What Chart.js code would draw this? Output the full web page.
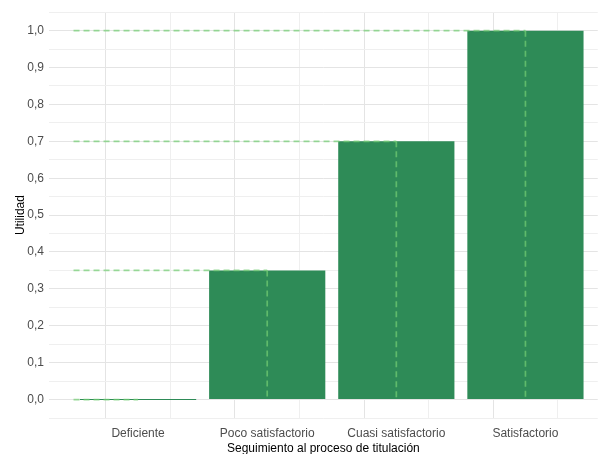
<!DOCTYPE html>
<html>
<head>
<meta charset="utf-8">
<script src="https://cdn.jsdelivr.net/npm/chart.js@4/dist/chart.umd.min.js"></script>
<style>
  html, body { margin: 0; padding: 0; background: #fff; }
  #wrap { width: 598px; height: 454px; }
</style>
</head>
<body>
<div id="wrap"><canvas id="chart"></canvas></div>
<script>
// Data
const categories = ['Deficiente', 'Poco satisfactorio', 'Cuasi satisfactorio', 'Satisfactorio'];
const utilidad = [0, 0.35, 0.7, 1.0];
const yTicks = [0, 0.1, 0.2, 0.3, 0.4, 0.5, 0.6, 0.7, 0.8, 0.9, 1.0];

const fontFamily = '"Liberation Sans", Arial, sans-serif';
const dashColor = 'rgba(115, 205, 115, 0.72)';

// bars sit at x = 0..n-1 on a linear axis
const barData = utilidad.map((v, i) => ({ x: i, y: v }));

// reference lines: horizontal from left edge to bar centre, vertical down to 0
const refSets = [];
utilidad.forEach((v, i) => {
    refSets.push({
        type: 'line',
        data: [{ x: -0.5, y: v }, { x: i, y: v }],
        borderColor: dashColor,
        borderWidth: 1.7,
        borderDash: [6, 4],
        pointRadius: 0,
        fill: false,
        order: 0
    });
    refSets.push({
        type: 'line',
        data: [{ x: i, y: v }, { x: i, y: 0 }],
        borderColor: dashColor,
        borderWidth: 1.7,
        borderDash: [6, 4],
        pointRadius: 0,
        fill: false,
        order: 0
    });
});

const isMajorY = v => yTicks.some(t => Math.abs(t - v) < 1e-6);
const isMajorX = v => Math.abs(v - Math.round(v)) < 1e-6;
const tickVal = ctx => (ctx && ctx.tick) ? ctx.tick.value : NaN;

new Chart(document.getElementById('chart'), {
    type: 'bar',
    data: {
        datasets: [{
            type: 'bar',
            data: barData,
            backgroundColor: '#2E8B57',
            borderWidth: 0,
            minBarLength: 1,
            // ticks every 0.5 halve the sample size, so 1.8 => 90% of a category
            barPercentage: 1.8,
            categoryPercentage: 1,
            order: 1
        }, ...refSets]
    },
    options: {
        responsive: true,
        maintainAspectRatio: false,
        animation: false,
        layout: { padding: { top: 11, right: 0, bottom: 0, left: 0 } },
        plugins: {
            legend: { display: false },
            tooltip: { enabled: false }
        },
        scales: {
            x: {
                type: 'linear',
                offset: false,
                min: -0.69,
                max: 3.56,
                afterBuildTicks: scale => {
                    const t = [];
                    for (let v = -0.5; v <= 3.5; v += 0.5) t.push({ value: v });
                    scale.ticks = t;
                },
                afterFit: scale => { scale.height = 36; },
                border: { display: false },
                grid: {
                    drawTicks: false,
                    color: ctx => isMajorX(tickVal(ctx)) ? '#e4e4e4' : '#efefef',
                    lineWidth: 1
                },
                ticks: {
                    autoSkip: false,
                    maxRotation: 0,
                    padding: 8,
                    color: '#4d4d4d',
                    font: { family: fontFamily, size: 12 },
                    callback: v => isMajorX(v) ? (categories[Math.round(v)] || '') : ''
                },
                title: {
                    display: true,
                    text: 'Seguimiento al proceso de titulación',
                    color: '#000',
                    font: { family: fontFamily, size: 12 },
                    padding: { top: 0, bottom: -2 }
                }
            },
            y: {
                min: -0.05,
                max: 1.05,
                afterBuildTicks: scale => {
                    const t = [];
                    for (let k = -1; k <= 21; k++) t.push({ value: k * 0.05 });
                    scale.ticks = t;
                },
                afterFit: scale => { scale.width = 49; },
                border: { display: false },
                grid: {
                    drawTicks: false,
                    color: ctx => isMajorY(tickVal(ctx)) ? '#e4e4e4' : '#efefef',
                    lineWidth: 1
                },
                ticks: {
                    autoSkip: false,
                    padding: 5,
                    color: '#4d4d4d',
                    font: { family: fontFamily, size: 12 },
                    callback: v => isMajorY(v) ? v.toFixed(1).replace('.', ',') : ''
                },
                title: {
                    display: true,
                    text: 'Utilidad',
                    color: '#000',
                    font: { family: fontFamily, size: 12 },
                    padding: { top: 13, bottom: 0 }
                }
            }
        }
    }
});
</script>
</body>
</html>
